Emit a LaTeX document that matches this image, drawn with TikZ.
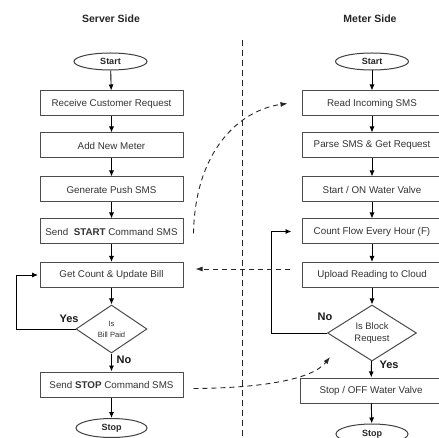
\documentclass[tikz,border=0pt]{standalone}
\usepackage{fontspec}
\setmainfont{Liberation Sans}
\usetikzlibrary{shapes.geometric,arrows.meta,calc}
\begin{document}
\begin{tikzpicture}[x=1pt,y=1pt,
  box/.style={draw=black!70, line width=1pt, rectangle, minimum width=143pt, minimum height=25pt, inner sep=0pt, font=\fontsize{9.8}{11}\selectfont, text=black!80},
  term/.style={draw=black!75, line width=1pt, ellipse, minimum width=73pt, minimum height=17pt, inner sep=0pt, font=\bfseries\fontsize{9}{10}\selectfont, text=black!85},
  dec/.style={draw=black!70, line width=1pt, diamond, aspect=1.5, inner sep=0pt, align=center, text=black!80},
  flow/.style={draw=black, line width=0.9pt, -{Latex[length=6pt,width=5pt]}},
  msg/.style={draw=black!85, line width=0.9pt, dash pattern=on 5pt off 4pt, -{Latex[length=7pt,width=5pt]}},
  ttl/.style={font=\bfseries\fontsize{10.5}{12}\selectfont, text=black!85},
  lbl/.style={font=\bfseries\fontsize{11}{12}\selectfont, text=black!90}
]
\clip (0,0) rectangle (439,-438);
\fill[white] (0,0) rectangle (439,-438);
% titles
\node[ttl] (t1) at (111,-19) {Server Side};
\node[ttl] (t2) at (370,-19) {Meter Side};
% divider
\coordinate (divtop) at (242,-40);
\coordinate (divbot) at (242,-442);
\draw[black!85, line width=0.9pt, dash pattern=on 6pt off 4pt] (divtop) -- (divbot);
% server side
\node[term] (sst) at (110.5,-61.5) {Start};
\node[box] (rcr) at (111.5,-103.5) {Receive Customer Request};
\node[box] (anm) at (111.5,-145.5) {Add New Meter};
\node[box] (gps) at (111.5,-189.5) {Generate Push SMS};
\node[box] (ssc) at (111.5,-231.5) {Send \ \textbf{START} Command SMS};
\node[box] (gcu) at (111.5,-275) {Get Count \& Update Bill};
\node[dec, minimum width=71pt, minimum height=48pt, font=\fontsize{7.6}{11}\selectfont] (bp) at (111.5,-329) {Is\\Bill Paid};
\node[box] (sstop) at (111.5,-384.5) {Send \textbf{STOP} Command SMS};
\node[term, minimum width=71pt, minimum height=19pt] (sen) at (111.5,-428) {Stop};
\draw[flow] (sst) -- (rcr);
\draw[flow] (rcr) -- (anm);
\draw[flow] (anm) -- (gps);
\draw[flow] (gps) -- (ssc);
\draw[flow] (ssc) -- (gcu);
\draw[flow] (gcu) -- (bp);
\draw[flow] (bp) -- (sstop);
\draw[flow] (sstop) -- (sen);
\coordinate (lp1) at (16,0);
\draw[flow] (bp.west) -- (bp.west -| lp1) |- ($(gcu.west)+(-1.5,0)$);
\node[lbl] (yes1) at (69,-319) {Yes};
\node[lbl] (no1) at (124,-360) {No};
% meter side
\node[term] (mst) at (372,-61.5) {Start};
\node[box, minimum width=140pt] (ris) at (372,-103.5) {Read Incoming SMS};
\node[box, minimum width=140pt] (psg) at (372,-145.5) {Parse SMS \& Get Request};
\node[box, minimum width=140pt] (sow) at (372,-189.5) {Start / ON Water Valve};
\node[box, minimum width=140pt] (cfe) at (372,-231.5) {Count Flow Every Hour (F)};
\node[box, minimum width=140pt] (urc) at (372,-275) {Upload Reading to Cloud};
\node[dec, minimum width=89pt, minimum height=56pt, font=\fontsize{9.4}{12}\selectfont] (ibr) at (372,-333) {Is Block\\Request};
\node[box, minimum width=142pt] (sof) at (371,-390.5) {Stop / OFF Water Valve};
\node[term, minimum width=72pt, minimum height=20pt] (men) at (372,-434) {Stop};
\draw[flow] (mst) -- (ris);
\draw[flow] (ris) -- (psg);
\draw[flow] (psg) -- (sow);
\draw[flow] (sow) -- (cfe);
\draw[flow] (cfe) -- (urc);
\draw[flow] (urc) -- (ibr);
\draw[flow] (ibr) -- (sof);
\draw[flow] (sof) -- (men);
\coordinate (lp2) at (271,0);
\draw[flow] (ibr.west) -- (ibr.west -| lp2) |- ($(cfe.west)+(-10,0)$);
\node[lbl] (no2) at (325,-317) {No};
\node[lbl] (yes2) at (389,-365) {Yes};
% messages
\draw[msg] ($(ssc.east)+(10,-2)$) .. controls (195,-150) and (240,-110) .. ($(ris.west)+(-14,0)$);
\draw[msg] ($(urc.west)+(-12,6)$) -- ($(gcu.east)+(12,6)$);
\coordinate (m3end) at (330,-357);
\draw[msg] ($(sstop.east)+(10,-4)$) .. controls (260,-388) and (312,-380) .. (m3end);
\end{tikzpicture}
\end{document}
